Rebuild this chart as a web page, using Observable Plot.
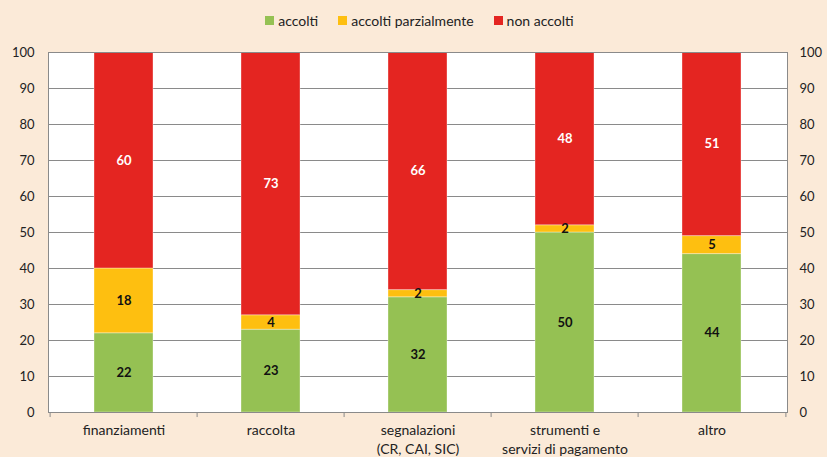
<!DOCTYPE html>
<html>
<head>
<meta charset="utf-8">
<script src="https://cdn.jsdelivr.net/npm/d3@7"></script>
<script src="https://cdn.jsdelivr.net/npm/@observablehq/plot@0.6"></script>
<style>
  html, body { margin: 0; padding: 0; background: #FBEAD8; }
  body { width: 827px; height: 457px; overflow: hidden; font-family: Lato, "Open Sans", sans-serif; color: #222; }
  #legend { height: 40px; display: flex; justify-content: center; align-items: center; gap: 20px; font-size: 14px; padding-left: 12px; box-sizing: border-box; }
  #legend .item { display: flex; align-items: center; gap: 4px; }
  #legend .sw { width: 9px; height: 9px; display: inline-block; }
  #chart svg { display: block; }
</style>
</head>
<body>
<div id="legend"></div>
<div id="chart"></div>
<script>
const categories = ["finanziamenti", "raccolta", "segnalazioni\n(CR, CAI, SIC)", "strumenti e\nservizi di pagamento", "altro"];
const series = ["accolti", "accolti parzialmente", "non accolti"];
const colors = ["#95C153", "#FEBF10", "#E42521"];
const accolti = [22, 23, 32, 50, 44];
const parzialmente = [18, 4, 2, 2, 5];
const nonAccolti = [60, 73, 66, 48, 51];
const yTicks = [0, 10, 20, 30, 40, 50, 60, 70, 80, 90, 100];

const valuesBySeries = [accolti, parzialmente, nonAccolti];
const rows = [];
categories.forEach((cat, i) => {
  let base = 0;
  series.forEach((s, j) => {
    const v = valuesBySeries[j][i];
    rows.push({cat, series: s, value: v, y1: base, y2: base + v});
    base += v;
  });
});

// legend
const legend = document.getElementById("legend");
series.forEach((s, j) => {
  const it = document.createElement("div");
  it.className = "item";
  const sw = document.createElement("span");
  sw.className = "sw";
  sw.style.background = colors[j];
  const t = document.createElement("span");
  t.textContent = s;
  it.append(sw, t);
  legend.append(it);
});

const W = 827, mL = 48, mR = 40;
const step = (W - mL - mR) / categories.length;

const chart = Plot.plot({
  width: W,
  height: 417,
  marginTop: 12,
  marginBottom: 45,
  marginLeft: mL,
  marginRight: mR,
  style: {fontFamily: "Lato, 'Open Sans', sans-serif", fontSize: "13px", color: "#222", background: "transparent", overflow: "visible"},
  x: {domain: categories, paddingInner: 0.6, paddingOuter: 0.3, label: null},
  y: {domain: [0, 100], label: null},
  color: {domain: series, range: colors},
  marks: [
    Plot.frame({fill: "white", stroke: null}),
    Plot.ruleY(yTicks, {stroke: "#8a8a8a", strokeWidth: 1}),
    Plot.barY(rows, {x: "cat", y1: "y1", y2: "y2", fill: "series", stroke: "white", strokeOpacity: 0.35, strokeWidth: 1}),
    Plot.text(rows, {x: "cat", y: d => (d.y1 + d.y2) / 2, text: d => String(d.value),
      fill: d => d.series === "non accolti" ? "white" : "#111", fontWeight: "bold", fontSize: 13}),
    Plot.frame({stroke: "#8a8a8a", fill: null}),
    Plot.ruleX(categories, {x: d => d, y1: 0, y2: -1.4, dx: -step / 2, stroke: "#8a8a8a"}),
    Plot.ruleX([categories[categories.length - 1]], {x: d => d, y1: 0, y2: -1.4, dx: step / 2, stroke: "#8a8a8a"}),
    Plot.axisY({anchor: "left", ticks: yTicks, tickSize: 0, tickPadding: 14, fontSize: 13, label: null}),
    Plot.axisY({anchor: "right", ticks: yTicks, tickSize: 0, tickPadding: 12, fontSize: 13, label: null}),
    Plot.axisX({tickSize: 0, tickPadding: 10, fontSize: 14, lineHeight: 1.3, label: null})
  ]
});
document.getElementById("chart").append(chart);
</script>
</body>
</html>
